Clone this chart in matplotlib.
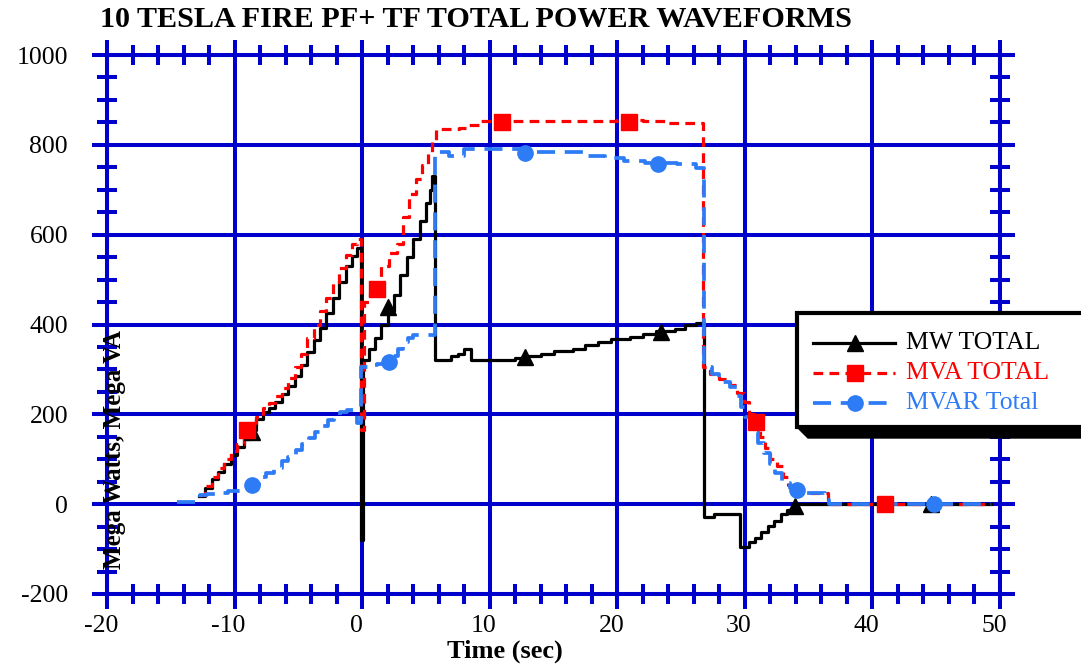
import matplotlib
matplotlib.use('Agg')
import matplotlib.pyplot as plt
from matplotlib.lines import Line2D
from matplotlib.patches import Rectangle, Polygon
from matplotlib.transforms import Affine2D, ScaledTranslation
import numpy as np

plt.rcParams['font.family'] = ['Liberation Serif', 'DejaVu Serif']
plt.rcParams['axes.unicode_minus'] = False
plt.rcParams['lines.scale_dashes'] = False

# ---------------- data ----------------
title = "10 TESLA FIRE PF+ TF TOTAL POWER WAVEFORMS"
x_label = "Time (sec)"
y_label = "Mega Watts, Mega VA"
series_names = ["MW TOTAL", "MVA TOTAL", "MVAR Total"]
x_ticks = [-20, -10, 0, 10, 20, 30, 40, 50]
y_ticks = [-200, 0, 200, 400, 600, 800, 1000]

mw_time = [-12.8, -12.3, -11.8, -11.3, -10.8, -10.3, -9.8, -9.3, -8.8, -8.3,
           -7.8, -7.3, -6.8, -6.3, -5.8, -5.3, -4.8, -4.3, -3.8, -3.3,
           -2.8, -2.3, -1.8, -1.3, -0.8, -0.4, -0.1, 0.1, 0.5, 1.0,
           1.5, 2.0, 2.5, 3.0, 3.5, 4.0, 4.5, 5.0, 5.3, 5.5,
           5.7, 7.0, 7.5, 8.0, 8.5, 10.0, 11.0, 12.0, 13.0, 14.0,
           15.0, 16.5, 17.5, 18.5, 19.5, 21.0, 22.0, 23.0, 24.5, 25.3,
           26.2, 26.8, 27.6, 29.6, 30.3, 30.8, 31.3, 31.8, 32.3, 32.8,
           33.3, 33.8, 49.3]
mw_val = [18, 35, 55, 72, 90, 110, 128, 145, 165, 190,
          205, 215, 228, 245, 262, 285, 310, 338, 365, 393,
          425, 460, 495, 530, 553, 570, -80, 320, 345, 370,
          400, 430, 465, 510, 550, 590, 630, 670, 700, 730,
          320, 330, 335, 345, 322, 320, 322, 325, 330, 335,
          340, 345, 355, 360, 368, 372, 378, 385, 390, 400,
          403, -28, -22, -95, -85, -75, -62, -48, -38, -22,
          -12, 0, 0]

mva_time = [-12.8, -12.3, -11.8, -11.3, -10.8, -10.3, -9.8, -9.3, -8.8, -8.3,
            -7.8, -7.3, -6.8, -6.3, -5.8, -5.3, -4.8, -4.3, -3.8, -3.3,
            -2.8, -2.3, -1.8, -1.3, -0.8, -0.4, -0.1, 0.15, 0.6, 1.5,
            2.1, 2.7, 3.2, 3.7, 4.2, 4.7, 5.2, 5.5, 5.8, 7.6,
            8.4, 9.2, 20.0, 22.0, 24.0, 26.7, 27.3, 28.0, 28.8, 29.4,
            29.9, 30.3, 30.8, 31.2, 31.6, 32.0, 32.5, 33.0, 33.4, 33.8,
            34.5, 36.5, 49.3]
mva_val = [20, 40, 60, 80, 100, 118, 135, 155, 175, 195,
           215, 225, 240, 258, 280, 305, 335, 370, 400, 430,
           460, 495, 525, 555, 580, 590, 165, 450, 470, 530,
           560, 580, 640, 690, 725, 755, 785, 810, 835, 838,
           845, 853, 855, 852, 848, 305, 290, 278, 265, 248,
           228, 200, 180, 150, 125, 100, 85, 60, 42, 30,
           25, 0, 0]

mvar_time = [-14.5, -12.7, -12.2, -11.5, -10.5, -9.5, -8.8, -8.1, -7.5, -6.9,
             -6.3, -5.8, -5.2, -4.7, -4.2, -3.7, -3.2, -2.7, -2.2, -1.7,
             -1.2, -0.4, -0.1, 0.5, 1.2, 2.4, 2.8, 3.2, 3.6, 4.0,
             5.7, 6.8, 8.0, 13.5, 17.6, 19.0, 20.5, 22.2, 24.7, 26.2,
             26.8, 27.4, 28.0, 28.8, 29.4, 29.7, 30.0, 30.5, 31.0, 31.5,
             32.0, 32.4, 32.9, 33.5, 34.0, 34.7, 36.3, 36.6, 49.3]
mvar_val = [5, 20, 22, 25, 30, 35, 42, 60, 70, 80,
            95, 105, 120, 135, 148, 160, 175, 188, 198, 205,
            210, 180, 305, 310, 313, 330, 345, 360, 370, 376,
            785, 775, 790, 785, 775, 770, 765, 760, 758, 748,
            306, 290, 272, 261, 240, 217, 194, 160, 136, 113,
            90, 69, 47, 35, 30, 24, 9, 0, 0]

# marker positions
mw_mark_t = [-8.6, 2.0, 12.8, 23.4, 33.9, 44.6]
mw_mark_v = [160, 440, 328, 384, -5, 0]
mva_mark_t = [-9.0, 1.2, 11.0, 20.9, 30.9, 41.0]
mva_mark_v = [165, 480, 851, 851, 183, 0]
mvar_mark_t = [-8.6, 2.1, 12.8, 23.2, 34.1, 44.8]
mvar_mark_v = [42, 317, 781, 757, 31, 0]

# ---------------- style ----------------
W, H = 1081, 665
GRID = '#0000CC'
BLUE = '#2D7CF6'
RED = '#FF0000'
RED_DASH = (0, (7, 4.5))
BLUE_DASH = (0, (13, 7))
GLW = 2.9

fig = plt.figure(figsize=(W / 100, H / 100), dpi=100)
ax = fig.add_axes([107 / W, 1 - 594 / H, (1000 - 107) / W, (594 - 55) / H])
ax.set_xlim(-20, 50)
ax.set_ylim(-200, 1000)
ax.set_xticks(x_ticks)
ax.set_yticks(y_ticks)
ax.set_xticks(np.arange(-20, 51, 2), minor=True)
ax.set_yticks(np.arange(-200, 1001, 50), minor=True)
ax.grid(True, which='major', color=GRID, lw=GLW, zorder=0)
ax.set_axisbelow(True)
for s in ax.spines.values():
    s.set_color(GRID)
    s.set_linewidth(GLW)
ax.tick_params(which='major', direction='out', length=11, width=GLW, color=GRID,
               top=True, right=True, labelsize=18.5)
ax.tick_params(which='minor', direction='inout', length=14, width=GLW, color=GRID,
               top=True, right=True)
ax.tick_params(axis='y', which='major', pad=17)
ax.tick_params(axis='x', which='major', pad=4)
off = ScaledTranslation(-0.06, 0, fig.dpi_scale_trans)
for lab in ax.get_xticklabels():
    lab.set_transform(lab.get_transform() + off)

ax.plot(mw_time, mw_val, color='black', lw=2.3, drawstyle='steps-post', zorder=3)
ax.plot(mva_time, mva_val, color=RED, lw=2.3, ls=RED_DASH, drawstyle='steps-post', zorder=4)
ax.plot(mvar_time, mvar_val, color=BLUE, lw=2.7, ls=BLUE_DASH, drawstyle='steps-post', zorder=5)
ax.plot(mw_mark_t, mw_mark_v, ls='none', marker='^', ms=12, color='black', zorder=6)
ax.plot(mva_mark_t, mva_mark_v, ls='none', marker='s', ms=12, color=RED, zorder=6)
ax.plot(mvar_mark_t, mvar_mark_v, ls='none', marker='o', ms=11, color=BLUE, zorder=6)

# texts
fig.text(100 / W, 1 - 27 / H, title, fontsize=21.7, fontweight='bold', ha='left', va='baseline')
fig.text(505 / W, 1 - 658 / H, x_label, fontsize=19, fontweight='bold', ha='center', va='baseline')
fig.text(115 / W, 1 - 450 / H, y_label, fontsize=18, fontweight='bold', rotation=90,
         ha='center', va='center', zorder=10)

# legend (drawn in pixel coordinates, top-left origin)
T = Affine2D().scale(1, -1).translate(0, H)
shadow = Polygon([(797, 427), (808, 438), (1095, 438), (1095, 427)], closed=True,
                 facecolor='black', edgecolor='black', transform=T, zorder=20)
box = Rectangle((797, 313), 300, 114, facecolor='white', edgecolor='black', lw=3,
                transform=T, zorder=21)
fig.add_artist(shadow)
fig.add_artist(box)
rows = [343, 373, 403]
styles = [('black', '-', 2.3, '^', 12), (RED, RED_DASH, 2.3, 's', 12), (BLUE, BLUE_DASH, 2.7, 'o', 11)]
for name, y, (c, ls, lw, mk, ms) in zip(series_names, rows, styles):
    fig.add_artist(Line2D([813, 895], [y, y], color=c, ls=ls, lw=lw, transform=T, zorder=22))
    fig.add_artist(Line2D([855], [y], color=c, marker=mk, ms=ms, ls='none', transform=T, zorder=23))
    fig.text(906 / W, 1 - y / H, name, color=c, fontsize=18.5, ha='left', va='center', zorder=24)

fig.savefig('out.png', dpi=100)
